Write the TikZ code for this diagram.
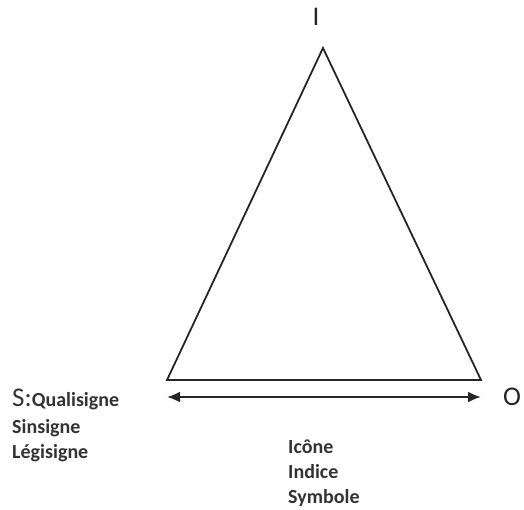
\documentclass[tikz,border=0pt]{standalone}
\usepackage{fontspec}
\setmainfont{Carlito}
\usetikzlibrary{arrows.meta, positioning}

\begin{document}
\begin{tikzpicture}[
  x=1pt, y=-1pt,
  side/.style   ={draw=black!85, line width=1.8pt, line join=miter},
  dual/.style   ={draw=black!85, line width=2.2pt, {Latex[length=13pt,width=11pt]}-{Latex[length=13pt,width=11pt]}},
  big/.style    ={inner sep=0pt, anchor=base, font=\fontsize{27}{30}\selectfont, text=black!85},
  lbl/.style    ={inner sep=0pt, anchor=base west, font=\bfseries\fontsize{20}{25}\selectfont, text=black!80},
]
\useasboundingbox (0,0) rectangle (524,510);

% =========================== TRIANGLE ===============================
\coordinate (apex)  at (323, 48);
\coordinate (left)  at (167, 380);
\coordinate (right) at (481, 380);
\draw[side] (apex) -- (left) -- (right) -- cycle;

% =========================== ARROW ==================================
\coordinate (aL) at (167, 397);
\coordinate (aR) at (481, 397);
\draw[dual] (aL) -- (aR);

% =========================== LABELS =================================
\node[big] (I) at (316, 26) {I};
\node[big, anchor=base west] (O) at (503, 405) {O};

\node[lbl] (S)   at (12, 406) {{\mdseries\fontsize{27}{30}\selectfont S:}Qualisigne};
\node[lbl] (Sin) at (12, 433) {Sinsigne};
\node[lbl] (Leg) at (12, 458) {Légisigne};

\node[lbl] (Ico) at (288, 453) {Icône};
\node[lbl] (Ind) at (288, 478) {Indice};
\node[lbl] (Sym) at (288, 503) {Symbole};

\end{tikzpicture}
\end{document}
